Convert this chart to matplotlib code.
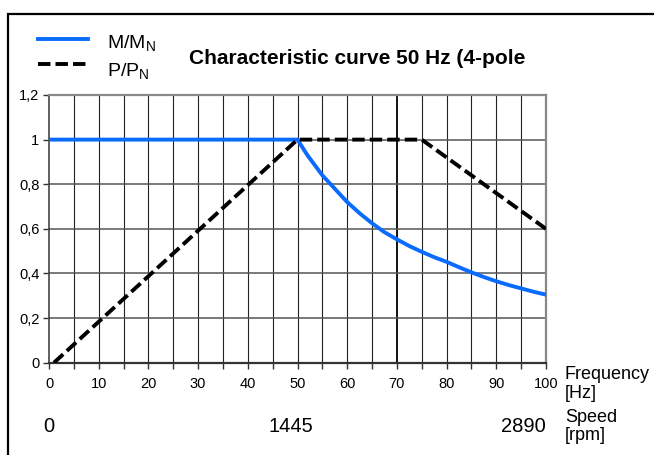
import matplotlib.pyplot as plt
import matplotlib.transforms as mtransforms
from matplotlib.patches import Rectangle

# data
freq_m = [0, 50, 51, 52, 53, 55, 57.5, 60, 62.5, 65, 67.5, 70, 72.5, 75,
          77.5, 80, 82.5, 85, 87.5, 90, 92.5, 95, 97.5, 100]
torque = [1.0, 1.0, 0.965, 0.93, 0.9, 0.84, 0.78, 0.72, 0.67, 0.625, 0.585,
          0.553, 0.523, 0.497, 0.473, 0.452, 0.428, 0.405, 0.384, 0.365,
          0.348, 0.333, 0.318, 0.305]
freq_p = [1, 50, 75, 100]
power = [0.0, 1.0, 1.0, 0.6]
y_ticks = [0, 0.2, 0.4, 0.6, 0.8, 1.0, 1.2]
y_labels = ["0", "0,2", "0,4", "0,6", "0,8", "1", "1,2"]
x_labels = [0, 10, 20, 30, 40, 50, 60, 70, 80, 90, 100]
speed_pos = [0, 50, 100]
speed_labels = ["0", "1445", "2890"]

plt.rcParams['font.family'] = ['Liberation Sans', 'DejaVu Sans']

W, H = 654, 455
BLUE = '#0a6cff'
DASH = (0, (3.2, 1.3))
fig = plt.figure(figsize=(W / 100, H / 100), dpi=100)

def px(x, y):
    return x / W, 1 - y / H

# outer frame
fig.patches.append(Rectangle(px(7.5, 470), 700 / W, 456 / H, transform=fig.transFigure,
                             fill=False, edgecolor='black', lw=1.6))

x0, x1, y0, y1 = 49, 546, 95, 362.7
ax = fig.add_axes([x0 / W, 1 - y1 / H, (x1 - x0) / W, (y1 - y0) / H])
ax.set_xlim(0, 100)
ax.set_ylim(0, 1.2)

for v in range(5, 100, 5):
    ax.axvline(v, color='black' if v == 70 else '#222222',
               lw=1.3 if v == 70 else 0.8, zorder=1)
for v in y_ticks[1:-1]:
    ax.axhline(v, color='#555555', lw=1.1, zorder=1)

ax.plot(freq_m, torque, color=BLUE, lw=2.8, zorder=3, solid_capstyle='butt')
ax.plot(freq_p, power, color='black', lw=2.8, ls=DASH, zorder=4)

ax.set_xticks(range(0, 101, 5))
ax.set_xticklabels([str(v) if v in x_labels else "" for v in range(0, 101, 5)])
ax.set_yticks(y_ticks)
ax.set_yticklabels(y_labels)
ax.tick_params(direction='out', length=4, width=1, colors='#333333',
               labelcolor='black', labelsize=10.5)
ax.tick_params(axis='x', pad=6)
ax.tick_params(axis='y', pad=3)
for s in ['top', 'right']:
    ax.spines[s].set_color('#888888')
    ax.spines[s].set_linewidth(1.6)
ax.spines['bottom'].set_color('#333333')
ax.spines['bottom'].set_linewidth(1.6)
ax.spines['left'].set_color('#444444')
ax.spines['left'].set_linewidth(1.2)

# speed axis labels
trans = mtransforms.blended_transform_factory(ax.transData, fig.transFigure)
for pos, lab in zip(speed_pos, speed_labels):
    ha = 'center'
    xx = pos
    if pos == 100:
        ha = 'right'
    elif pos == 50:
        xx = pos - 1.4
    ax.text(xx, 1 - 427 / H, lab, transform=trans, ha=ha, va='center', fontsize=14.5)

fig.text(*px(565, 384), "Frequency\n[Hz]", ha='left', va='center', fontsize=13,
         linespacing=1.15)
fig.text(*px(565, 426.5), "Speed\n[rpm]", ha='left', va='center', fontsize=13,
         linespacing=1.15)

# legend
fig.add_artist(plt.Line2D([38 / W, 88 / W], [1 - 39 / H] * 2, color=BLUE, lw=2.8))
fig.add_artist(plt.Line2D([38 / W, 88 / W], [1 - 64 / H] * 2, color='black', lw=2.8,
                          ls=DASH))
fig.text(*px(107, 44), r"M/M$_\mathregular{N}$", ha='left', va='center', fontsize=14)
fig.text(*px(107, 72), r"P/P$_\mathregular{N}$", ha='left', va='center', fontsize=14)
fig.text(*px(189, 58), "Characteristic curve 50 Hz (4-pole", ha='left', va='center',
         fontsize=15, fontweight='bold')

fig.savefig("out.png", dpi=100)
